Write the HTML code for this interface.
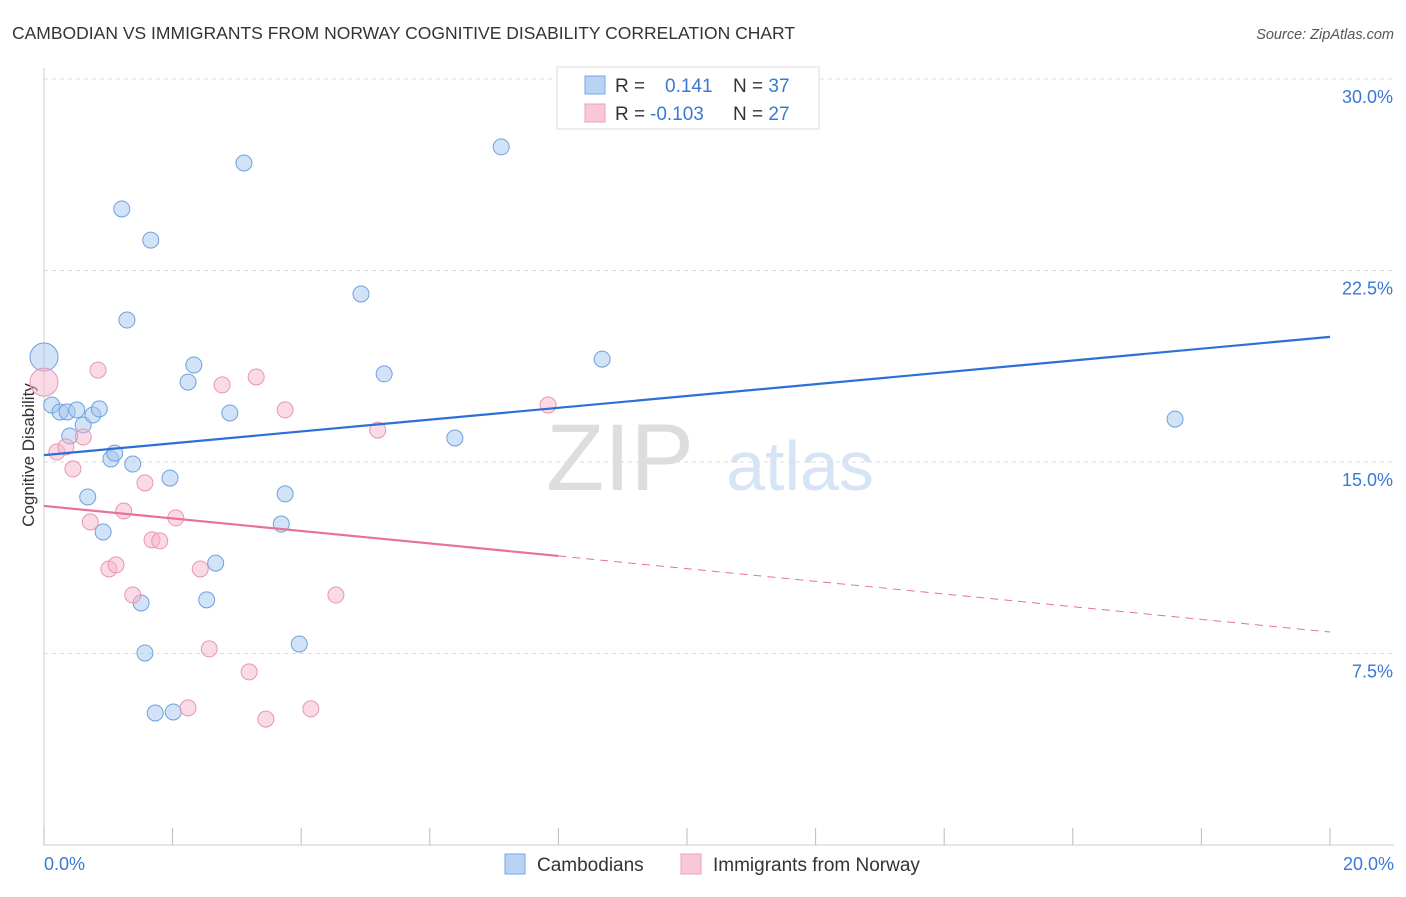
<!DOCTYPE html>
<html><head><meta charset="utf-8"><style>
body{margin:0;background:#fff;font-family:"Liberation Sans",sans-serif;}
svg text{font-family:"Liberation Sans",sans-serif;}
</style></head><body>
<svg id="chart" width="1406" height="892">
<text x="12" y="39" font-size="17.5" fill="#333">CAMBODIAN VS IMMIGRANTS FROM NORWAY COGNITIVE DISABILITY CORRELATION CHART</text>
<text x="1394" y="39" font-size="14.5" fill="#555" font-style="italic" text-anchor="end">Source: ZipAtlas.com</text>
<text x="620" y="490" font-size="95" fill="#ddd" font-family="Liberation Serif" text-anchor="middle">ZIP</text>
<text x="800" y="490" font-size="70" fill="#d6e4f5" text-anchor="middle">atlas</text>
<text transform="translate(34,455) rotate(-90)" font-size="17" fill="#333" text-anchor="middle">Cognitive Disability</text>
<g id="grid"></g><g id="marks"></g>
<g>
<rect x="557" y="67" width="262" height="62" fill="#fff" stroke="#ddd"/>
<rect x="585" y="76" width="20" height="18" fill="#b8d3f5" stroke="#7aa7e0"/>
<rect x="585" y="104" width="20" height="18" fill="#f9c8d8" stroke="#eaa0bb"/>
<text x="615" y="92" font-size="19" fill="#333">R = <tspan x="665" fill="#3a78d4">0.141</tspan><tspan x="733" fill="#333">N = </tspan><tspan fill="#3a78d4">37</tspan></text>
<text x="615" y="120" font-size="19" fill="#333">R = <tspan x="650" fill="#3a78d4">-0.103</tspan><tspan x="733" fill="#333">N = </tspan><tspan fill="#3a78d4">27</tspan></text>
</g>
<g>
<rect x="505" y="854" width="20" height="20" fill="#b8d3f5" stroke="#7aa7e0"/>
<text x="537" y="871" font-size="19" fill="#333">Cambodians</text>
<rect x="681" y="854" width="20" height="20" fill="#f9c8d8" stroke="#eaa0bb"/>
<text x="713" y="871" font-size="19" fill="#333">Immigrants from Norway</text>
</g>
</svg>
<script>
const blueX=[0,.12,.25,.36,.51,.40,.61,.76,.86,.68,.92,1.04,1.10,1.38,1.21,1.66,1.29,1.51,1.57,1.73,2.01,1.96,2.24,2.33,2.53,2.67,2.89,3.11,3.69,3.75,3.97,4.93,5.29,6.39,7.11,8.68,17.59];
const blueY=[19.11,17.23,16.96,16.96,17.04,16.02,16.45,16.84,17.08,13.63,12.26,15.12,15.35,14.92,24.91,23.69,20.56,9.48,7.52,5.17,5.21,14.37,18.13,18.8,9.6,11.04,16.92,26.71,12.57,13.75,7.87,21.58,18.45,15.94,27.34,19.03,16.68];
const pinkX=[0,.20,.34,.45,.61,.72,.84,1.01,1.12,1.24,1.38,1.57,1.68,1.80,2.05,2.43,2.57,2.77,3.19,3.30,3.45,3.75,4.15,4.54,5.19,7.84,2.24];
const pinkY=[18.13,15.39,15.59,14.73,15.98,12.65,18.6,10.81,10.97,13.08,9.79,14.18,11.95,11.91,12.81,10.81,7.68,18.02,6.78,18.33,4.93,17.04,5.33,9.79,16.25,17.23,5.37];
const blueTrend=[15.27,19.9];
const pinkTrend=[13.28,11.32,8.34];
const yTicks=[30,22.5,15,7.5];
const yTickLabels=["30.0%","22.5%","15.0%","7.5%"];
const xTicks=[0,2,4,6,8,10,12,14,16,18,20];
const NS="http://www.w3.org/2000/svg";
const sx=v=>44+v/20*1286;
const sy=v=>79+(30-v)/7.5*191.5;
function mk(tag,attrs,parent){const e=document.createElementNS(NS,tag);for(const k in attrs)e.setAttribute(k,attrs[k]);parent.appendChild(e);return e;}
const grid=document.getElementById('grid'),marks=document.getElementById('marks');
yTicks.forEach((t,i)=>{
 const l=mk('line',{x1:44,x2:1394,y1:sy(t),y2:sy(t),stroke:'#ddd','stroke-dasharray':'4,4'},grid);
 
 
 const tx=mk('text',{x:1393,y:sy(t)+24,'font-size':18,fill:'#3a78d4','text-anchor':'end'},grid);
 tx.textContent=yTickLabels[i];
 
 
});
const ax=mk('line',{x1:44,x2:1394,y1:845,y2:845,stroke:'#ccc'},grid);


const ay=mk('line',{x1:44,x2:44,y1:68,y2:845,stroke:'#ccc'},grid);


xTicks.forEach(t=>{
 const l=mk('line',{x1:sx(t),x2:sx(t),y1:828,y2:845,stroke:'#bbb'},grid);
 
 
});
[[0,'0.0%','start',44],[20,'20.0%','end',1394]].forEach(a=>{
 const tx=mk('text',{x:a[3],y:870,'font-size':18,fill:'#3a78d4','text-anchor':a[2]},grid);
 tx.textContent=a[1];
 
 
});
function pts(xs,ys,fill,stroke,name){
 xs.forEach((x,i)=>{
  const r=(x===0)?14:8;
  const c=mk('circle',{cx:sx(x),cy:sy(ys[i]),r:r,fill:fill,stroke:stroke,'stroke-width':1},marks);
  
  
 });
}
pts(blueX,blueY,'rgba(165,198,240,0.5)','#6fa0e0','cambodian-point');
pts(pinkX,pinkY,'rgba(246,182,204,0.5)','#e895b4','norway-point');
const bl=mk('line',{x1:sx(0),y1:sy(blueTrend[0]),x2:sx(20),y2:sy(blueTrend[1]),stroke:'#2c6fd6','stroke-width':2.2},marks);


const pl=mk('line',{x1:sx(0),y1:sy(pinkTrend[0]),x2:sx(8),y2:sy(pinkTrend[1]),stroke:'#e8709a','stroke-width':2.2},marks);


const pd=mk('line',{x1:sx(8),y1:sy(pinkTrend[1]),x2:sx(20),y2:sy(pinkTrend[2]),stroke:'#e8709a','stroke-width':1,'stroke-dasharray':'8,6'},marks);


</script>
</body></html>
